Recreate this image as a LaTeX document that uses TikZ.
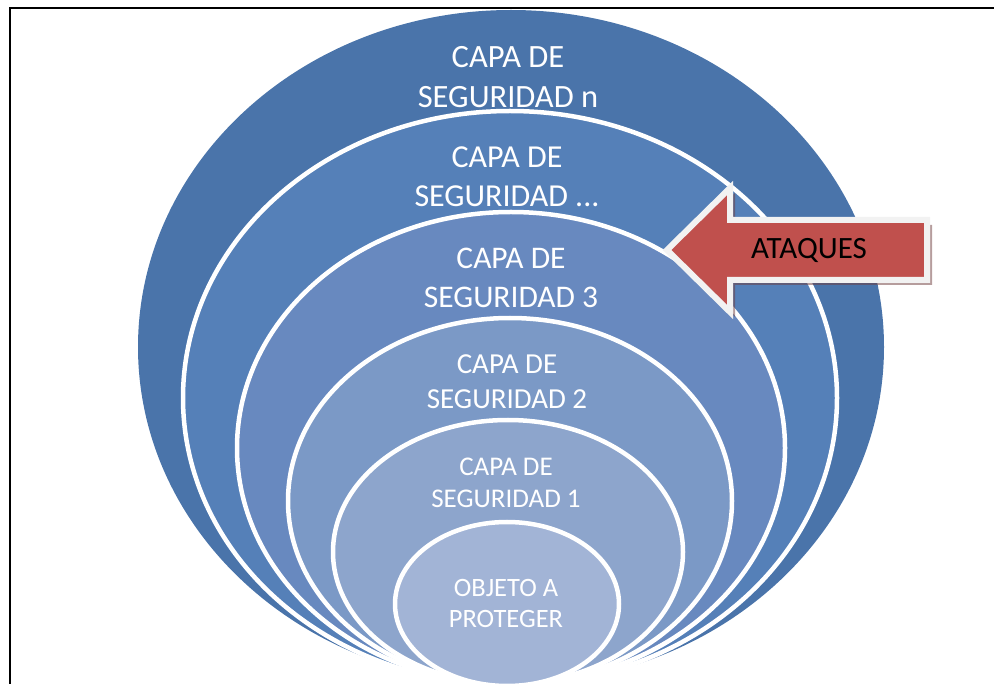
\documentclass[tikz,border=0pt]{standalone}
\usepackage{fontspec}
\setmainfont{Carlito}
\usepackage{xcolor}
\usetikzlibrary{calc}

\definecolor{capaN}{HTML}{4A74AA}
\definecolor{capaD}{HTML}{5580B8}
\definecolor{capaC}{HTML}{6889BF}
\definecolor{capaB}{HTML}{7B99C6}
\definecolor{capaA}{HTML}{8DA5CC}
\definecolor{objeto}{HTML}{A2B4D6}
\definecolor{ataque}{HTML}{C0504D}
\definecolor{sombra}{RGB}{110,60,60}

\begin{document}
\begin{tikzpicture}[x=1pt,y=-1pt]
\tikzset{
  capa/.style={draw=white, line width=4.5pt},
  rotulo/.style={text=white, align=center, inner sep=0pt},
}
\useasboundingbox (0,0) rectangle (994,684);
\clip (0,0) rectangle (994,684);

% marco
\draw[line width=1.6pt] (10,700) -- (10,8) -- (1010,8);

% capas
\fill[capaN] (511,347) ellipse [x radius=373, y radius=337];
\filldraw[capa, fill=capaD] (510,398) ellipse [x radius=327, y radius=287];
\filldraw[capa, fill=capaC] (511,448) ellipse [x radius=274, y radius=236];
\filldraw[capa, fill=capaB] (510,501) ellipse [x radius=222, y radius=183];
\filldraw[capa, fill=capaA] (508,552) ellipse [x radius=175, y radius=132];
\filldraw[capa, fill=objeto] (507,604) ellipse [x radius=112, y radius=82];

\node[rotulo, font=\fontsize{32.5}{40}\selectfont] (capan) at (508,77) {CAPA DE\\SEGURIDAD n};
\node[rotulo, font=\fontsize{32}{39}\selectfont] (capad) at (507,177) {CAPA DE\\SEGURIDAD ...};
\node[rotulo, font=\fontsize{31.5}{39}\selectfont] (capa3) at (511,278) {CAPA DE\\SEGURIDAD 3};
\node[rotulo, font=\fontsize{29}{35}\selectfont] (capa2) at (507,382) {CAPA DE\\SEGURIDAD 2};
\node[rotulo, font=\fontsize{27}{32}\selectfont] (capa1) at (506,483) {CAPA DE\\SEGURIDAD 1};
\node[rotulo, font=\fontsize{26.5}{31}\selectfont] (obj) at (506,603) {OBJETO A\\PROTEGER};

% flecha
\fill[sombra, opacity=0.5, shift={(5,5)}]
    (667,250) --  % punta
    (730,188) -- (730,220) -- (927,220) --
    (927,280) -- (730,280) -- (730,312) -- cycle;
\filldraw[fill=ataque, draw=white!95!black, line width=6pt, line join=miter]
    (667,250) --  % punta
    (730,188) -- (730,220) -- (927,220) --
    (927,280) -- (730,280) -- (730,312) -- cycle;
\node[font=\fontsize{31}{31}\selectfont, inner sep=0pt] (ataques) at (809,250) {ATAQUES};

\end{tikzpicture}
\end{document}
